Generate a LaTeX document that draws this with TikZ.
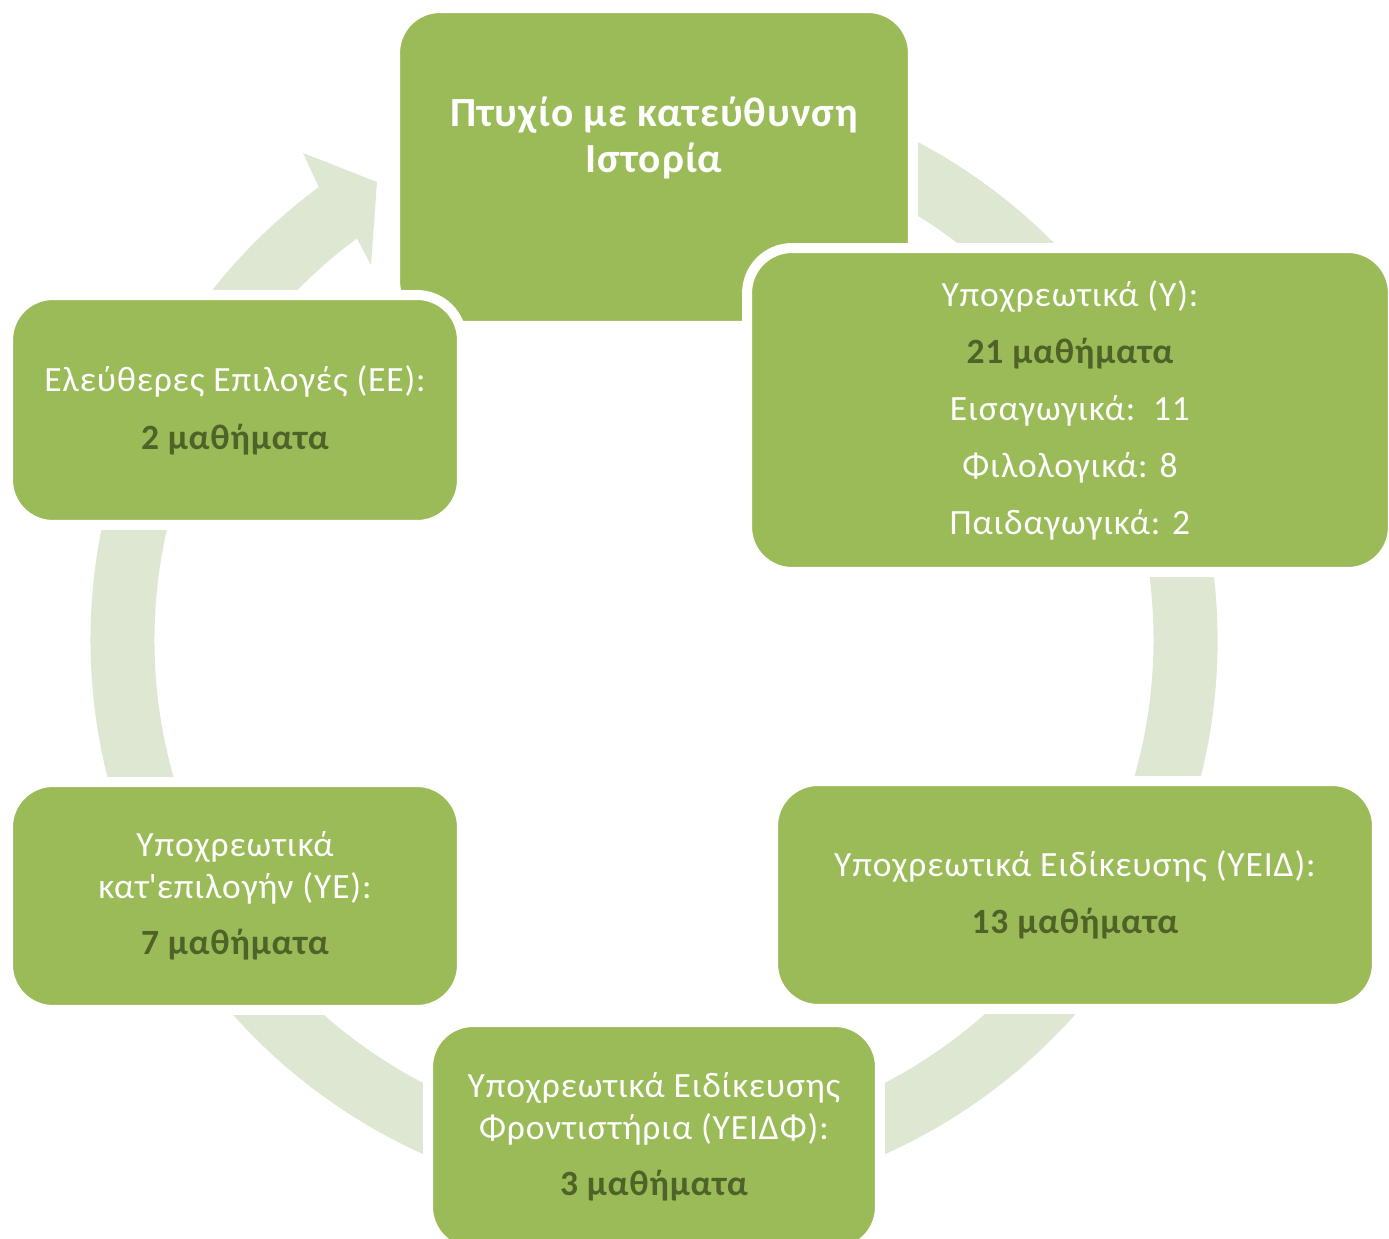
\documentclass[tikz,border=0pt]{standalone}
\usepackage{fontspec}
\setmainfont{Carlito}[LetterSpace=2.5]
\definecolor{boxgreen}{HTML}{9BBB59}
\definecolor{ringgreen}{HTML}{DEE7D1}
\definecolor{darktxt}{HTML}{4F6228}
\begin{document}
\begin{tikzpicture}[x=0.02cm,y=0.02cm,
  box/.style={rounded corners=0.9cm, fill=boxgreen, draw=white, line width=0.2cm,
    inner sep=0pt, align=center, text=white,
    font=\fontsize{20.2pt}{23.9pt}\selectfont},
  titletext/.style={text=white, align=center, inner sep=0pt,
    font=\bfseries\fontsize{23.6pt}{26.7pt}\selectfont},
  ring/.style={fill=ringgreen}
]
\useasboundingbox (0,0) rectangle (1389,1238);
% circular arrow
\fill[ring] (654,598) ++(100:563.5) arc[start angle=100, end angle=-233.5, radius=563.5]
  -- (303,1085) -- (377,1056) -- (371,973) -- (356.9,999.6)
  arc[start angle=-233.5, end angle=100, radius=499.5] -- cycle;
% boxes
\node[box, minimum width=10.36cm, minimum height=6.36cm] (top) at (654,1071) {};
\node[titletext] (title) at (654,1100) {Πτυχίο με κατεύθυνση\\Ιστορία};
\node[box, minimum width=9.08cm, minimum height=4.6cm] (ee) at (235,828)
  {Ελεύθερες Επιλογές (ΕΕ):\\[0.32cm]\textcolor{darktxt}{\bfseries 2 μαθήματα}};
\node[box, minimum width=12.92cm, minimum height=6.48cm] (y) at (1070,828)
  {Υποχρεωτικά (Υ):\\[0.3cm]\textcolor{darktxt}{\bfseries 21 μαθήματα}\\[0.3cm]Εισαγωγικά:\ \ 11\\[0.3cm]Φιλολογικά: 8\\[0.3cm]Παιδαγωγικά: 2};
\node[box, minimum width=9.08cm, minimum height=4.56cm] (ye) at (235,342)
  {Υποχρεωτικά\\κατ\textquotesingle επιλογήν (ΥΕ):\\[0.28cm]\textcolor{darktxt}{\bfseries 7 μαθήματα}};
\node[box, minimum width=12.08cm, minimum height=4.56cm] (yeid) at (1075,343)
  {Υποχρεωτικά Ειδίκευσης (ΥΕΙΔ):\\[0.3cm]\textcolor{darktxt}{\bfseries 13 μαθήματα}};
\node[box, minimum width=9.04cm, minimum height=4.6cm] (yeidf) at (654,101)
  {Υποχρεωτικά Ειδίκευσης\\Φροντιστήρια (ΥΕΙΔΦ):\\[0.28cm]\textcolor{darktxt}{\bfseries 3 μαθήματα}};
\end{tikzpicture}
\end{document}
